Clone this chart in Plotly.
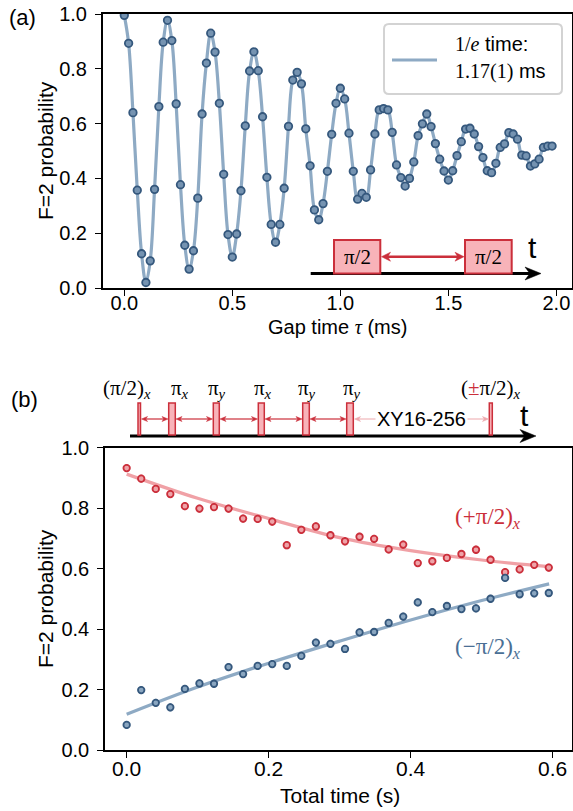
import plotly.graph_objects as go

W, H = 573, 811
def px(x): return x / W
def py(y): return 1 - y / H

# ---------------- data (a) ----------------
gap_time_ms = [0.00, 0.02, 0.04, 0.06, 0.08, 0.10, 0.12, 0.14, 0.16, 0.18,
               0.20, 0.22, 0.24, 0.26, 0.28, 0.30, 0.32, 0.34, 0.36, 0.38,
               0.40, 0.42, 0.44, 0.46, 0.48, 0.50, 0.52, 0.54, 0.56, 0.58,
               0.60, 0.62, 0.64, 0.66, 0.68, 0.70, 0.72, 0.74, 0.76, 0.78,
               0.80, 0.82, 0.84, 0.86, 0.88, 0.90, 0.92, 0.94, 0.96, 0.98,
               1.00, 1.02, 1.04, 1.06, 1.08, 1.10, 1.12, 1.14, 1.16, 1.18,
               1.20, 1.22, 1.24, 1.26, 1.28, 1.30, 1.32, 1.34, 1.36, 1.38,
               1.40, 1.42, 1.44, 1.46, 1.48, 1.50, 1.52, 1.54, 1.56, 1.58,
               1.60, 1.62, 1.64, 1.66, 1.68, 1.70, 1.72, 1.74, 1.76, 1.78,
               1.80, 1.82, 1.84, 1.86, 1.88, 1.90, 1.92, 1.94, 1.96, 1.98]
prob_a = [0.995, 0.893, 0.640, 0.357, 0.125, 0.020, 0.099, 0.360, 0.662, 0.897,
          0.977, 0.903, 0.672, 0.377, 0.156, 0.069, 0.136, 0.328, 0.635, 0.821,
          0.930, 0.861, 0.674, 0.415, 0.195, 0.113, 0.197, 0.355, 0.592, 0.792,
          0.862, 0.793, 0.625, 0.404, 0.232, 0.167, 0.232, 0.364, 0.590, 0.759,
          0.787, 0.745, 0.581, 0.446, 0.285, 0.249, 0.308, 0.426, 0.561, 0.674,
          0.729, 0.690, 0.565, 0.426, 0.324, 0.345, 0.331, 0.431, 0.562, 0.650,
          0.655, 0.650, 0.568, 0.449, 0.403, 0.372, 0.400, 0.460, 0.556, 0.599,
          0.635, 0.589, 0.527, 0.470, 0.427, 0.394, 0.428, 0.483, 0.534, 0.580,
          0.583, 0.562, 0.516, 0.476, 0.428, 0.421, 0.455, 0.513, 0.526, 0.567,
          0.562, 0.543, 0.485, 0.482, 0.445, 0.453, 0.470, 0.513, 0.518, 0.518]

# ---------------- data (b) ----------------
total_time_s = [0.0, 0.0205, 0.041, 0.0615, 0.082, 0.1025, 0.123, 0.1435, 0.164, 0.1845,
                0.205, 0.2255, 0.246, 0.2665, 0.287, 0.3075, 0.328, 0.3485, 0.369, 0.3895,
                0.41, 0.4305, 0.451, 0.4715, 0.492, 0.5125, 0.533, 0.5535, 0.574, 0.5945]
prob_plus = [0.932, 0.897, 0.863, 0.846, 0.806, 0.798, 0.803, 0.798, 0.765, 0.764,
             0.755, 0.677, 0.728, 0.739, 0.710, 0.690, 0.705, 0.698, 0.663, 0.679,
             0.618, 0.624, 0.635, 0.648, 0.662, 0.629, 0.588, 0.597, 0.612, 0.603]
prob_minus = [0.083, 0.198, 0.156, 0.141, 0.202, 0.220, 0.219, 0.274, 0.251, 0.278,
              0.284, 0.278, 0.311, 0.355, 0.351, 0.334, 0.389, 0.390, 0.420, 0.441,
              0.488, 0.456, 0.476, 0.466, 0.468, 0.500, 0.569, 0.515, 0.518, 0.519]
fit_time_s = [0.0, 0.1, 0.2, 0.3, 0.4, 0.5, 0.595]
fit_plus = [0.912, 0.832, 0.765, 0.702, 0.659, 0.628, 0.606]
fit_minus = [0.118, 0.208, 0.287, 0.360, 0.430, 0.494, 0.549]

# ---------------- styles ----------------
SANS = "Liberation Sans, Arial, sans-serif"
SERIF = "Liberation Serif, Times New Roman, serif"
BLUE_LINE = "#8eaac4"
BLUE_EDGE = "#35587d"
BLUE_FILL = "#7593b1"
RED_EDGE = "#cb2f3b"
RED_FILL = "#eea3a8"
RED_LINE = "#f0a1a6"
PINK_BOX = "#f8b3b9"

fig = go.Figure()

# (a) fit curve + data
fig.add_trace(go.Scatter(x=gap_time_ms, y=prob_a, mode="lines",
                         line=dict(color=BLUE_LINE, width=3.2, shape="spline", smoothing=1.0),
                         xaxis="x", yaxis="y", showlegend=False, hoverinfo="skip"))
fig.add_trace(go.Scatter(x=gap_time_ms, y=prob_a, mode="markers",
                         marker=dict(size=7.5, color=BLUE_FILL, line=dict(color=BLUE_EDGE, width=1.8)),
                         xaxis="x", yaxis="y", showlegend=False))

# (b) fits + data
fig.add_trace(go.Scatter(x=fit_time_s, y=fit_plus, mode="lines",
                         line=dict(color=RED_LINE, width=3.2, shape="spline"),
                         xaxis="x2", yaxis="y2", showlegend=False))
fig.add_trace(go.Scatter(x=fit_time_s, y=fit_minus, mode="lines",
                         line=dict(color=BLUE_LINE, width=3.2, shape="spline"),
                         xaxis="x2", yaxis="y2", showlegend=False))
fig.add_trace(go.Scatter(x=total_time_s, y=prob_plus, mode="markers",
                         marker=dict(size=6.5, color=RED_FILL, line=dict(color=RED_EDGE, width=1.8)),
                         error_y=dict(type="constant", value=0.013, thickness=2, width=0, color=RED_EDGE),
                         xaxis="x2", yaxis="y2", showlegend=False))
fig.add_trace(go.Scatter(x=total_time_s, y=prob_minus, mode="markers",
                         marker=dict(size=6.5, color="#8aa6c0", line=dict(color=BLUE_EDGE, width=1.8)),
                         error_y=dict(type="constant", value=0.013, thickness=2, width=0, color=BLUE_EDGE),
                         xaxis="x2", yaxis="y2", showlegend=False))

axis_common = dict(showline=True, linecolor="black", linewidth=1.5, mirror=True,
                   ticks="outside", ticklen=6, tickwidth=1.3, tickcolor="black",
                   showgrid=False, zeroline=False, automargin=False)

shapes = []
annotations = []

def box(x0, y0, x1, y1, fill, edge, w=2):
    shapes.append(dict(type="rect", xref="paper", yref="paper",
                       x0=px(x0), x1=px(x1), y0=py(y1), y1=py(y0),
                       fillcolor=fill, line=dict(color=edge, width=w), layer="above"))

def head_path(xt, y, direction, hl, hw, notch=0.3):
    # xt: tip x (pixels), direction +1 points right, -1 points left
    xb = xt - direction * hl
    xn = xt - direction * hl * (1 - notch)
    return (f"M {px(xt)},{py(y)} L {px(xb)},{py(y - hw / 2)} L {px(xn)},{py(y)} "
            f"L {px(xb)},{py(y + hw / 2)} Z")

def arrow(x0, y, x1, color, width, hl, hw, both=False):
    lx0 = x0 + (hl * 0.6 if both else 0)
    lx1 = x1 - hl * 0.6
    shapes.append(dict(type="line", xref="paper", yref="paper", x0=px(lx0), x1=px(lx1),
                       y0=py(y), y1=py(y), line=dict(color=color, width=width), layer="above"))
    shapes.append(dict(type="path", xref="paper", yref="paper", path=head_path(x1, y, 1, hl, hw),
                       fillcolor=color, line=dict(color=color, width=0.5), layer="above"))
    if both:
        shapes.append(dict(type="path", xref="paper", yref="paper", path=head_path(x0, y, -1, hl, hw),
                           fillcolor=color, line=dict(color=color, width=0.5), layer="above"))

def text(x, y, s, size=20, family=SANS, color="black", angle=0, xanchor="center", yanchor="middle", bg=None):
    d = dict(xref="paper", yref="paper", x=px(x), y=py(y), text=s, showarrow=False,
             font=dict(family=family, size=size, color=color), textangle=angle,
             xanchor=xanchor, yanchor=yanchor)
    if bg:
        d["bgcolor"] = bg
    annotations.append(d)

# panel labels and axis titles
text(22, 17, "(a)", size=22)
text(24, 399, "(b)", size=22)
text(45, 151, "F=2 probability", size=21, angle=-90)
text(45, 599, "F=2 probability", size=21, angle=-90)
text(337, 327, "Gap time <span style='font-family:Liberation Serif'><i>τ</i></span> (ms)", size=20)
text(340, 795, "Total time (s)", size=21)

# legend box (a)
r = 5
lx0, ly0, lx1, ly1 = 384, 24, 562, 94
path = (f"M {px(lx0+r)},{py(ly0)} L {px(lx1-r)},{py(ly0)} Q {px(lx1)},{py(ly0)} {px(lx1)},{py(ly0+r)} "
        f"L {px(lx1)},{py(ly1-r)} Q {px(lx1)},{py(ly1)} {px(lx1-r)},{py(ly1)} "
        f"L {px(lx0+r)},{py(ly1)} Q {px(lx0)},{py(ly1)} {px(lx0)},{py(ly1-r)} "
        f"L {px(lx0)},{py(ly0+r)} Q {px(lx0)},{py(ly0)} {px(lx0+r)},{py(ly0)} Z")
shapes.append(dict(type="path", xref="paper", yref="paper", path=path,
                   fillcolor="rgba(255,255,255,0.9)", line=dict(color="#d3d3d3", width=2)))
shapes.append(dict(type="line", xref="paper", yref="paper", x0=px(392), x1=px(437),
                   y0=py(60), y1=py(60), line=dict(color=BLUE_LINE, width=3.2)))
text(453, 44, "<span style='font-family:Liberation Serif'>1/<i>e</i></span> time:", size=20, xanchor="left")
text(453, 71, "<span style='font-family:Liberation Serif'>1.17(1)</span> ms", size=20, xanchor="left")

# pulse diagram (a)
arrow(310.7, 273.5, 541, "black", 3, 16, 13)
box(334, 240, 380.3, 273.5, PINK_BOX, RED_EDGE, 2)
box(465, 240, 511.7, 273.5, PINK_BOX, RED_EDGE, 2)
text(357.2, 257, "π/2", size=21, family=SERIF)
text(488.4, 257, "π/2", size=21, family=SERIF)
arrow(381.5, 256.7, 464, RED_EDGE, 2.5, 9, 9, both=True)
text(532.5, 247, "t", size=30)

# pulse diagram (b)
arrow(130, 436, 536, "black", 3, 16, 13)
pulse_x = [(138, 140.5), (168.7, 175.3), (213.3, 219.3), (258.3, 264.3),
           (302.7, 309.3), (346.7, 353.3), (489.3, 492.3)]
for (a0, a1) in pulse_x:
    box(a0, 403, a1, 435, PINK_BOX, RED_EDGE, 1.5)
gaps = [(141.5, 168), (176, 212.5), (220, 257.5), (265, 302), (310, 346)]
for (g0, g1) in gaps:
    arrow(g0, 419, g1, RED_EDGE, 1.2, 6, 5, both=True)
arrow(354.5, 419, 488.5, "#eda7ac", 1.2, 6, 5, both=True)
text(421.7, 418.5, "XY16-256", size=20, bg="white")
labels_b = ["(π/2)<sub><i>x</i></sub>", "π<sub><i>x</i></sub>", "π<sub><i>y</i></sub>",
            "π<sub><i>x</i></sub>", "π<sub><i>y</i></sub>", "π<sub><i>y</i></sub>",
            f"(<span style='color:{RED_EDGE}'>±</span>π/2)<sub><i>x</i></sub>"]
label_cx = [127, 179.7, 217, 263, 306.7, 351.7, 490]
for s, cx in zip(labels_b, label_cx):
    text(cx, 389, s, size=21, family=SERIF)
text(524, 415, "t", size=30)

# series labels (b)
text(488, 518, "(+π/2)<sub><i>x</i></sub>", size=23, family=SERIF, color=RED_EDGE)
text(488, 648, "(−π/2)<sub><i>x</i></sub>", size=23, family=SERIF, color="#4a6f95")

fig.update_layout(
    width=W, height=H,
    margin=dict(l=0, r=0, t=0, b=0),
    paper_bgcolor="white", plot_bgcolor="white",
    showlegend=False,
    xaxis=dict(domain=[px(102.7), px(571.5)], range=[-0.1, 2.07], anchor="y",
               tickvals=[0, 0.5, 1.0, 1.5, 2.0], tickformat=".1f", ticklabelstandoff=-10,
               tickfont=dict(family=SANS, size=20, color="black"), **axis_common),
    yaxis=dict(domain=[py(288), py(14)], range=[0, 1], anchor="x",
               tickvals=[0, 0.2, 0.4, 0.6, 0.8, 1.0], tickformat=".1f", ticklabelstandoff=4,
               tickfont=dict(family=SANS, size=20, color="black"), **axis_common),
    xaxis2=dict(domain=[px(105), px(571.5)], range=[-0.0305, 0.6265], anchor="y2",
                tickvals=[0, 0.2, 0.4, 0.6], tickformat=".1f", ticklabelstandoff=-7,
                tickfont=dict(family=SANS, size=21, color="black"), **axis_common),
    yaxis2=dict(domain=[py(750), py(447.5)], range=[0, 1], anchor="x2",
                tickvals=[0, 0.2, 0.4, 0.6, 0.8, 1.0], tickformat=".1f", ticklabelstandoff=4,
                tickfont=dict(family=SANS, size=20, color="black"), **axis_common),
    shapes=shapes,
    annotations=annotations,
)

fig.write_html("out.html", config={"displayModeBar": False},
               post_script="document.body.style.margin='0';document.body.style.padding='0';"
                           "document.body.style.overflow='hidden';")
